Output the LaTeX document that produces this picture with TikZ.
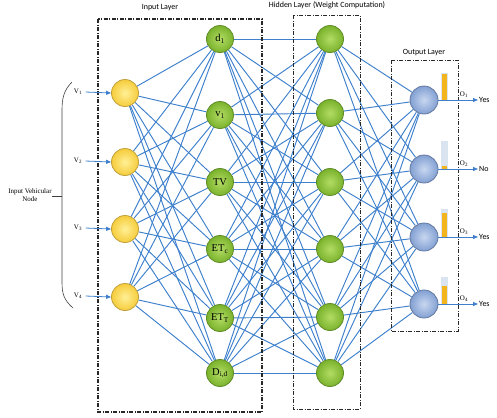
\documentclass[tikz,border=0pt]{standalone}
\usepackage{fontspec}
\setmainfont{Liberation Serif}
\newfontfamily\calib{Carlito}
\usetikzlibrary{arrows.meta}
\pgfdeclarelayer{bg}
\pgfsetlayers{bg,main}
\definecolor{lnblue}{RGB}{62,128,204}
\definecolor{ylin}{RGB}{255,240,150}
\definecolor{ylout}{RGB}{246,204,60}
\definecolor{ylbd}{RGB}{190,160,60}
\definecolor{grin}{RGB}{178,220,100}
\definecolor{grout}{RGB}{122,178,44}
\definecolor{grbd}{RGB}{96,140,40}
\definecolor{blin}{RGB}{200,215,240}
\definecolor{blout}{RGB}{130,160,210}
\definecolor{blbd}{RGB}{100,120,160}
\definecolor{barorange}{RGB}{244,180,30}
\definecolor{barlight}{RGB}{218,228,240}
\definecolor{boxgray}{RGB}{40,40,40}
\begin{document}
\begin{tikzpicture}[x=1bp,y=-1bp,
  innode/.style={circle,minimum size=27bp,inner sep=0pt,draw=ylbd,line width=0.8bp,inner color=ylin,outer color=ylout},
  gnode/.style={circle,minimum size=27bp,inner sep=0pt,draw=grbd,line width=0.8bp,inner color=grin,outer color=grout,font=\fontsize{10.5}{11}\selectfont},
  onode/.style={circle,minimum size=28bp,inner sep=0pt,draw=blbd,line width=0.8bp,inner color=blin,outer color=blout},
  conn/.style={draw=lnblue,line width=0.95bp},
  layerbox/.style={draw=boxgray,line width=0.9bp,dash pattern=on 4bp off 1.5bp on 1bp off 1.5bp},
  ttl/.style={font=\calib\fontsize{8}{9}\selectfont},
  vlab/.style={font=\fontsize{7}{8}\selectfont},
  olab/.style={font=\fontsize{7}{8}\selectfont},
  yeslab/.style={font=\calib\fontsize{8}{9}\selectfont,anchor=west,inner sep=1bp},
  arr/.style={draw=lnblue,line width=0.8bp,-{Triangle[length=5bp,width=4bp]}}
]
\useasboundingbox (0,0) rectangle (497,417);

% layer boxes
\draw[layerbox,line width=1.3bp] (98,19) rectangle (262,412);
\draw[layerbox] (293,15) rectangle (360,409);
\draw[layerbox] (391,60) rectangle (458,331);

% titles
\node[ttl] (t1) at (160,8) {Input Layer};
\node[ttl] (t2) at (327,5) {Hidden Layer (Weight Computation)};
\node[ttl] (t3) at (424,53) {Output Layer};

% input nodes
\foreach \i/\y in {1/93,2/162,3/229,4/297}{
  \node[innode] (in\i) at (125,\y) {};
}
% green layer 1
\node[gnode] (g1) at (220,39) {d\textsubscript{1}};
\node[gnode] (g2) at (220,115) {v\textsubscript{1}};
\node[gnode] (g3) at (220,182) {TV};
\node[gnode] (g4) at (220,249) {ET\textsubscript{c}};
\node[gnode] (g5) at (220,318) {ET\textsubscript{T}};
\node[gnode] (g6) at (220,373) {D\textsubscript{i,d}};
% green layer 2
\foreach \i/\y in {1/39,2/113,3/182,4/249,5/317,6/373}{
  \node[gnode] (h\i) at (330,\y) {};
}
% output nodes
\foreach \i/\y in {1/100,2/169,3/237,4/304}{
  \node[onode] (o\i) at (424,\y) {};
}

% connections (behind the nodes)
\begin{pgfonlayer}{bg}
\foreach \i in {1,...,4}{
  \foreach \j in {1,...,6}{
    \draw[conn] (in\i) -- (g\j);
  }
}
\foreach \i in {1,...,6}{
  \foreach \j in {1,...,6}{
    \draw[conn] (g\i) -- (h\j);
  }
}
\foreach \i in {1,...,6}{
  \foreach \j in {1,...,4}{
    \draw[conn] (h\i) -- (o\j);
  }
}
\end{pgfonlayer}

% input arrows and labels
\foreach \i/\y in {1/93,2/162,3/229,4/297}{
  \node[vlab] (v\i) at (78,\y-1) {V\textsubscript{\i}};
  \draw[arr] (v\i.east) -- (in\i.west);
}

% brace
\draw[line width=0.6bp,black!75] (72,82) .. controls (64,90) and (62,98) .. (62,110)
  -- (62,282) .. controls (62,294) and (64,300) .. (73,308);
\draw[line width=0.6bp,black!75] (52,196) -- (62,196);
\node[font=\fontsize{7}{8.5}\selectfont,align=center] (ivn) at (30,195) {Input Vehicular\\Node};

% bars
\foreach \i/\t/\f in {1/73/73,2/141/165,3/209/212,4/277/285}{
  \fill[barlight] (441,\t) rectangle (448,\t+28);
  \fill[barorange] (442,\f+0.5) rectangle (447,\t+27.5);
}

% outputs
\coordinate (e1) at (478,100);
\coordinate (e2) at (478,169);
\coordinate (e3) at (478,237);
\coordinate (e4) at (478,304);
\foreach \i/\lab in {1/Yes,2/No,3/Yes,4/Yes}{
  \draw[arr] (o\i.east) -- (e\i);
  \node[yeslab] (y\i) at (e\i) {\lab};
}
\node[olab] (ol1) at (464,95) {O\textsubscript{1}};
\node[olab] (ol2) at (464,164) {O\textsubscript{2}};
\node[olab] (ol3) at (464,232) {O\textsubscript{3}};
\node[olab] (ol4) at (464,299) {O\textsubscript{4}};
\end{tikzpicture}
\end{document}
